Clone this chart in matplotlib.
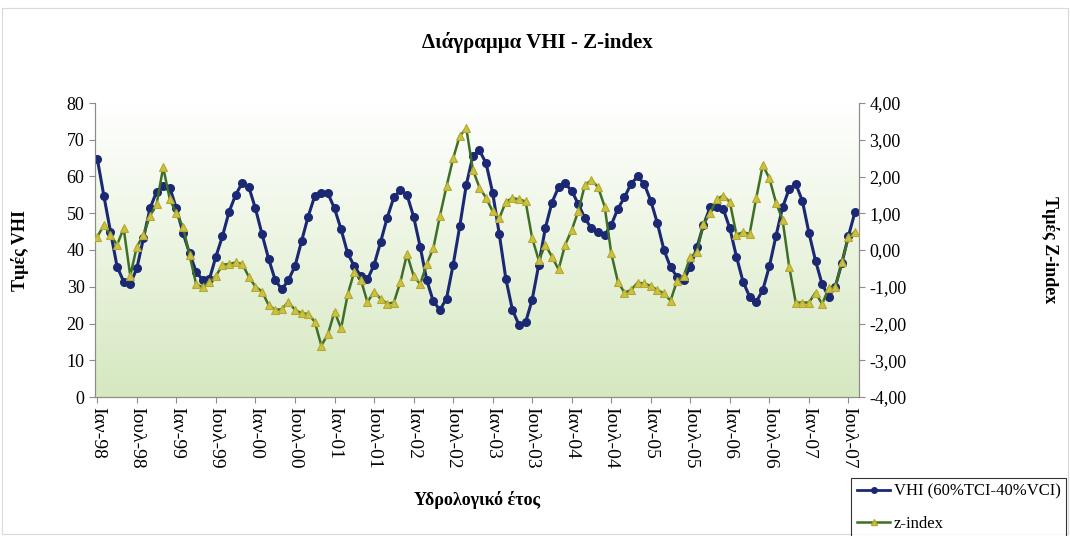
import numpy as np
import matplotlib.pyplot as plt
from matplotlib.colors import LinearSegmentedColormap
from matplotlib.ticker import FuncFormatter
from matplotlib.lines import Line2D
from matplotlib.patches import Rectangle

plt.rcParams['font.family'] = ['Liberation Serif', 'DejaVu Serif']

# monthly values, Jan-98 .. Aug-07
vhi = [64.8, 54.7, 45.0, 35.5, 31.4, 30.8, 35.0, 43.2, 51.3, 55.9,
       57.4, 57.0, 51.3, 44.7, 39.1, 34.1, 31.8, 32.0, 38.2, 43.8,
       50.4, 55.0, 58.3, 57.1, 51.3, 44.3, 37.6, 31.8, 29.3, 31.8,
       35.6, 42.4, 49.1, 54.7, 55.6, 55.4, 51.3, 45.6, 39.1, 35.6,
       32.9, 32.0, 35.9, 42.2, 48.8, 54.3, 56.3, 55.0, 49.1, 40.9,
       31.8, 26.0, 23.7, 26.8, 35.9, 46.4, 57.7, 65.6, 67.1, 63.6,
       55.6, 44.4, 32.2, 23.7, 19.6, 20.3, 26.5, 36.0, 46.0, 52.9,
       57.1, 58.1, 56.1, 52.5, 48.6, 45.9, 45.0, 44.1, 46.8, 51.2,
       54.3, 58.0, 60.0, 58.0, 53.4, 47.3, 40.0, 35.3, 32.7, 31.8,
       35.5, 40.7, 46.8, 51.6, 51.8, 51.1, 45.9, 38.2, 31.4, 27.3,
       25.9, 29.1, 35.6, 43.8, 51.6, 56.6, 58.0, 53.4, 44.7, 37.1,
       30.7, 27.3, 30.0, 36.5, 43.8, 50.4]

zindex = [0.36, 0.68, 0.41, 0.14, 0.59, -0.70, 0.09, 0.41, 0.93, 1.25,
          2.25, 1.38, 1.00, 0.63, -0.14, -0.93, -1.02, -0.86, -0.71, -0.40,
          -0.38, -0.34, -0.38, -0.73, -1.00, -1.13, -1.50, -1.63, -1.61, -1.41,
          -1.63, -1.72, -1.74, -1.95, -2.60, -2.29, -1.68, -2.13, -1.21, -0.59,
          -0.81, -1.42, -1.13, -1.33, -1.46, -1.43, -0.87, -0.11, -0.70, -0.93,
          -0.38, 0.05, 0.93, 1.73, 2.49, 3.10, 3.31, 2.18, 1.70, 1.42,
          1.05, 0.86, 1.31, 1.41, 1.38, 1.32, 0.32, -0.28, 0.14, -0.18,
          -0.53, 0.14, 0.54, 1.06, 1.77, 1.90, 1.71, 1.18, -0.09, -0.86,
          -1.16, -1.09, -0.89, -0.91, -0.98, -1.09, -1.18, -1.38, -0.83, -0.70,
          -0.20, -0.05, 0.70, 1.00, 1.38, 1.48, 1.30, 0.42, 0.48, 0.44,
          1.41, 2.31, 1.95, 1.29, 0.82, -0.45, -1.43, -1.43, -1.43, -1.16,
          -1.47, -1.04, -1.00, -0.34, 0.35, 0.50]

tick_labels = ["Ιαν-98", "Ιουλ-98", "Ιαν-99", "Ιουλ-99", "Ιαν-00", "Ιουλ-00",
               "Ιαν-01", "Ιουλ-01", "Ιαν-02", "Ιουλ-02", "Ιαν-03", "Ιουλ-03",
               "Ιαν-04", "Ιουλ-04", "Ιαν-05", "Ιουλ-05", "Ιαν-06", "Ιουλ-06",
               "Ιαν-07", "Ιουλ-07"]

navy = '#1b2873'
green = '#3f6e27'
yellow = '#cdc23e'
axcol = '#8c8c8c'

fig = plt.figure(figsize=(10.7, 5.36), dpi=100)
ax = fig.add_axes([95/1070, 1-397/536, (859-95)/1070, (397-103)/536])

x = np.arange(len(vhi))
ax.set_xlim(-0.35, 115.6)
ax.set_ylim(0, 80)

# gradient background of the plot area
cmap = LinearSegmentedColormap.from_list('bg', [(0, '#d5e8c0'), (0.5, '#ebf4e0'), (1, '#ffffff')])
grad = np.linspace(0, 1, 256).reshape(-1, 1)
ax.imshow(grad, cmap=cmap, origin='lower', aspect='auto',
          extent=[-0.35, 115.6, 0, 80], zorder=0)

ax.plot(x, vhi, color=navy, lw=2.2, marker='o', ms=5.5, mfc=navy, mec=navy, zorder=3)

ax2 = ax.twinx()
ax2.set_ylim(-4, 4)
ax2.plot(x, zindex, color=green, lw=1.8, marker='^', ms=6, mfc=yellow, mec='#b3a933',
         mew=0.8, zorder=3)

ax.set_yticks(range(0, 81, 10))
ax2.set_yticks(np.arange(-4, 4.01, 1))
ax2.yaxis.set_major_formatter(FuncFormatter(lambda v, p: f"{v:.2f}".replace('.', ',')))
ax.set_xticks(range(0, len(vhi), 6))
ax.set_xticklabels(tick_labels, rotation=-90, va='top', ha='center')

for a in (ax, ax2):
    a.spines['top'].set_visible(False)
    for s in ('left', 'right', 'bottom'):
        a.spines[s].set_color(axcol)
    a.tick_params(direction='out', length=4, color=axcol, labelsize=13)
ax.tick_params(axis='x', pad=3, labelsize=14)

fig.text(0.502, 1-42/536, "Διάγραμμα VHI - Z-index", ha='center', va='center',
         weight='bold', size=15)
fig.text(20/1070, 1-250/536, "Τιμές VHI", rotation=90, ha='center', va='center',
         weight='bold', size=13)
fig.text(1050/1070, 1-250/536, "Τιμές Z-index", rotation=-90, ha='center', va='center',
         weight='bold', size=13)
fig.text(477/1070, 1-500/536, "Υδρολογικό έτος", ha='center', va='center',
         weight='bold', size=13)

handles = [Line2D([], [], color=navy, lw=2, marker='o', ms=4, mfc=navy, mec=navy),
           Line2D([], [], color=green, lw=1.8, marker='^', ms=5, mfc=yellow, mec='#b3a933')]
leg = fig.legend(handles, ["VHI (60%TCI-40%VCI)", "z-index"], loc='upper left',
                 bbox_to_anchor=(851/1070, 1-478/536), frameon=True, fancybox=False,
                 edgecolor='black', borderaxespad=0, fontsize=12, handlelength=2.0,
                 borderpad=0.35, labelspacing=0.95, handletextpad=0.2)
leg.get_frame().set_linewidth(0.8)

fig.patches.append(Rectangle((2/1070, 2/536), 1066/1070, 526/536, transform=fig.transFigure,
                             fill=False, edgecolor='#d9d9d9', lw=0.8))

fig.savefig('out.png', dpi=100)
